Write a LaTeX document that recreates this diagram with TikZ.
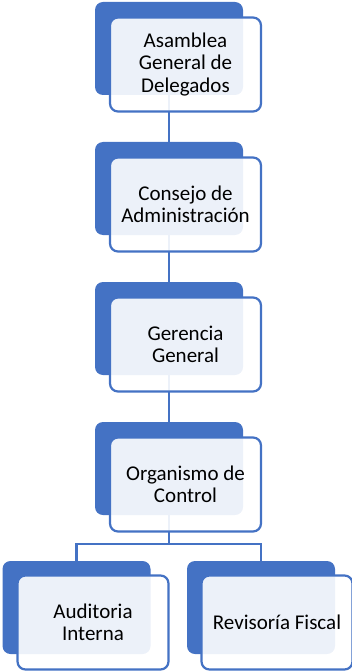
\documentclass[tikz,border=0pt]{standalone}
\usepackage{fontspec}
\setmainfont{Carlito}
\definecolor{sblue}{HTML}{4472C4}
\begin{document}
\begin{tikzpicture}[x=1pt,y=1pt,
  backbox/.style={fill=sblue, draw=none, rounded corners=8pt, minimum width=148pt, minimum height=93pt, inner sep=0pt},
  frontbox/.style={draw=sblue, line width=2.2pt, fill=white, fill opacity=0.9, text opacity=1, rounded corners=8pt, minimum width=151pt, minimum height=94pt, inner sep=0pt, align=center, font=\fontsize{21}{22.5}\selectfont},
  link/.style={draw=sblue, line width=2.2pt}]
\useasboundingbox (0,0) rectangle (352,-671);
\node[backbox] (b1) at (169,-48.5) {};
\node[backbox] (b2) at (169,-188.5) {};
\node[backbox] (b3) at (169,-328.5) {};
\node[backbox] (b4) at (169,-468.5) {};
\node[backbox] (b5) at (76.5,-607.5) {};
\node[backbox] (b6) at (261,-607.5) {};
\coordinate (bus) at (0,-544);
\draw[link] (b1.south) -- (b2.north);
\draw[link] (b2.south) -- (b3.north);
\draw[link] (b3.south) -- (b4.north);
\draw[link] (b4.south) -- (b4.south |- bus) -| (b5.north);
\draw[link] (b4.south |- bus) -| (b6.north);
\node[frontbox] (f1) at (185.5,-64.5) {Asamblea\\General de\\Delegados};
\node[frontbox] (f2) at (185.5,-204.5) {Consejo de\\Administración};
\node[frontbox] (f3) at (185.5,-344.5) {Gerencia\\General};
\node[frontbox] (f4) at (185.5,-484.5) {Organismo de\\Control};
\node[frontbox] (f5) at (93,-622.5) {Auditoria\\Interna};
\node[frontbox] (f6) at (277,-622.5) {Revisoría Fiscal};
\end{tikzpicture}
\end{document}
